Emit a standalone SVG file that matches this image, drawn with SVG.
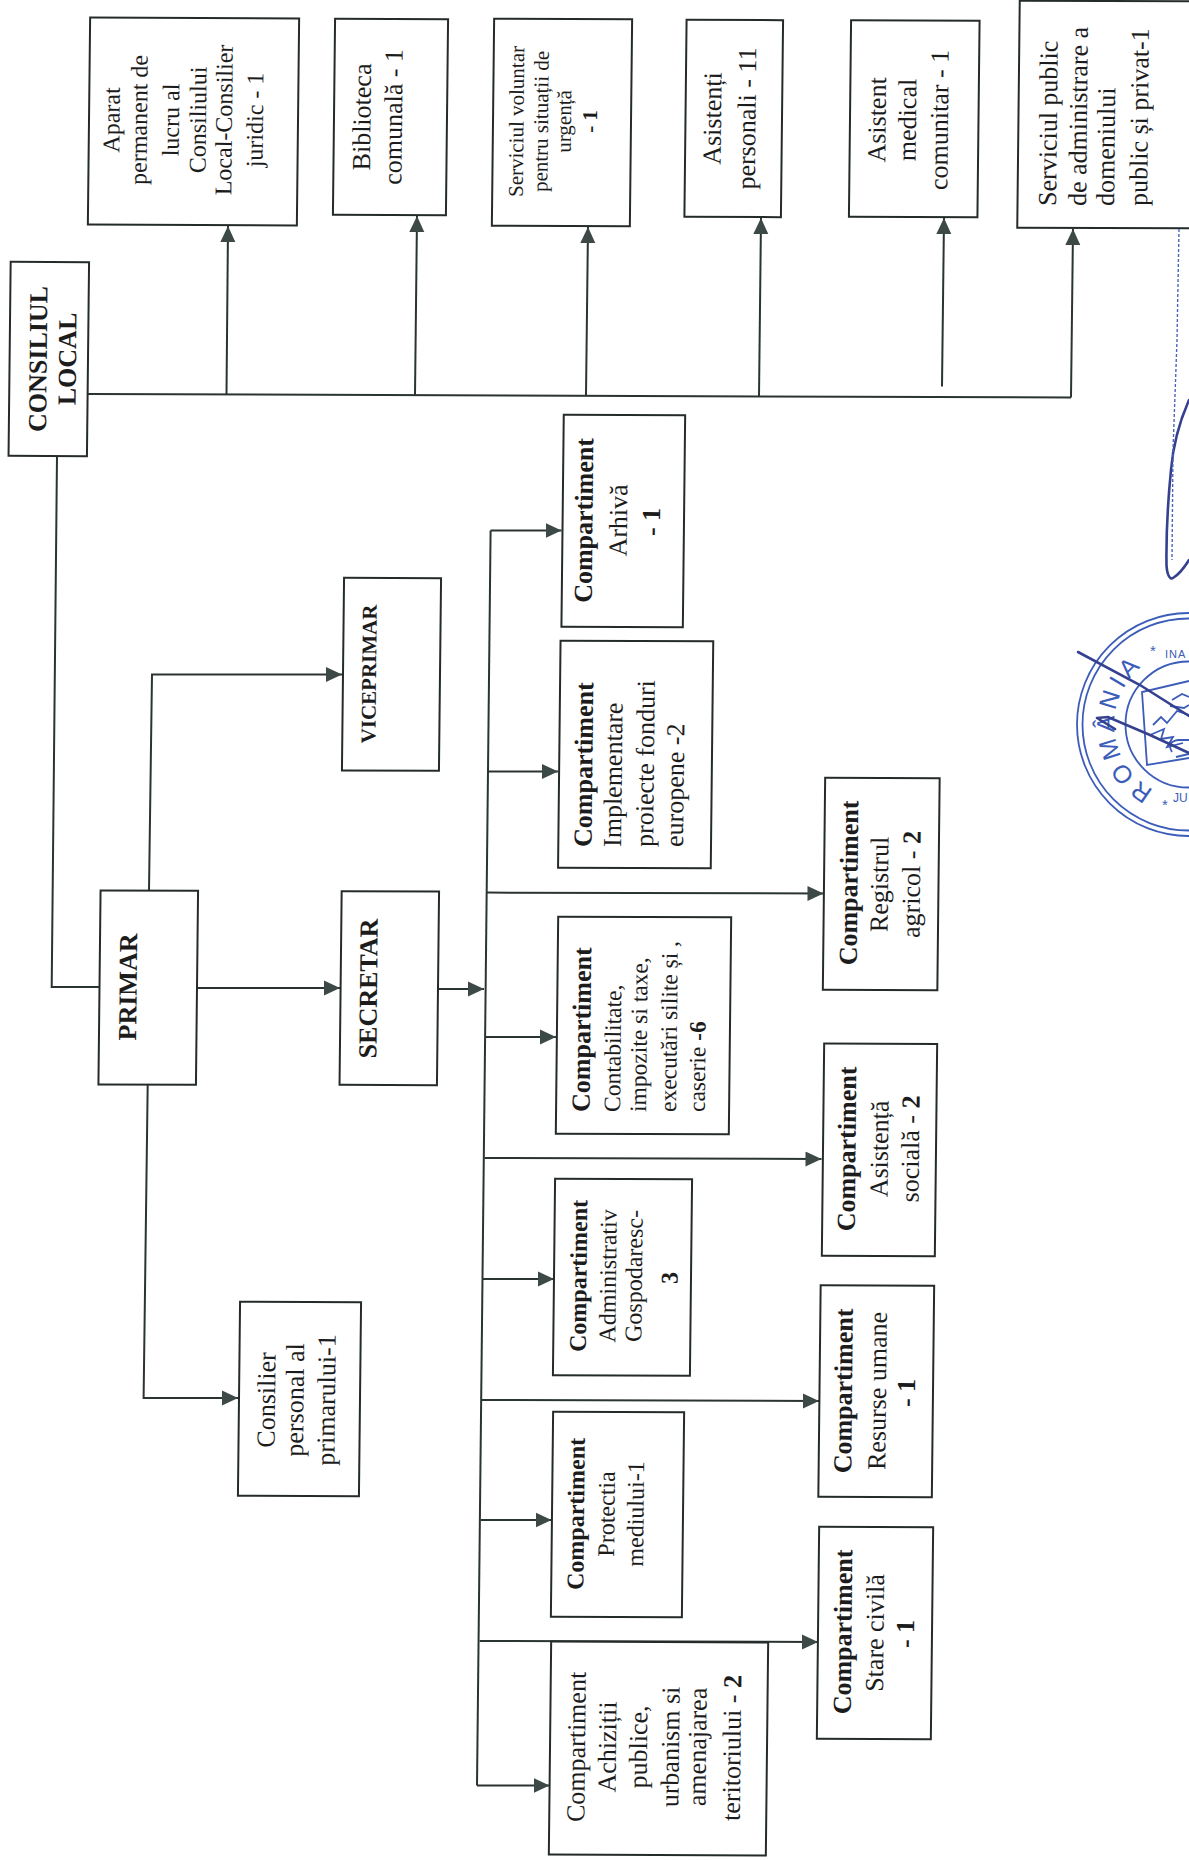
<svg xmlns="http://www.w3.org/2000/svg" width="1189" height="1860" viewBox="0 0 1189 1860">
<style>
.box{fill:#fff;stroke:#252b2b;stroke-width:2;transform-box:fill-box;transform-origin:center;transform:matrix(1,.0038,-.011,1,0,0)}
.t{font-family:"Liberation Serif","Times New Roman",serif;font-size:26px;fill:#1c1c1c;text-anchor:middle}
.l{text-anchor:start}
.b{font-weight:bold}
.f24{font-size:24px}
.f235{font-size:23.5px}
.f21{font-size:21px}
.c{fill:none;stroke:#2a3433;stroke-width:2}
.a{marker-end:url(#arr)}
.seal{fill:none;stroke:#3b5cb8;stroke-width:1.8}
.sealt{font-family:"Liberation Sans",Arial,sans-serif;fill:#3b5cb8}
.sig{fill:none;stroke:#35408f;stroke-width:2.6;stroke-linecap:round}
</style>
<defs>
<marker id="arr" markerUnits="userSpaceOnUse" markerWidth="17" markerHeight="16" refX="16" refY="8" orient="auto"><path d="M0,0.5 L16,8 L0,15.5 Z" fill="#3c4946"/></marker>
</defs>
<rect width="1189" height="1860" fill="#fff"/>

<g id="connectors">
<path class="c" d="M88,394 L1071,397.5"/>
<path class="c a" d="M226.5,394.5 L228,226"/>
<path class="c a" d="M415,395 L417,216"/>
<path class="c a" d="M586,395.5 L588,227"/>
<path class="c a" d="M759,396.5 L761,218"/>
<path class="c a" d="M942,386.5 L944,218"/>
<path class="c a" d="M1071,397.5 L1073,229"/>
<path class="c" d="M57,456 L51.7,987 L99.5,987"/>
<path class="c a" d="M149,891 L152,674.5 L342,674.5"/>
<path class="c a" d="M197,988 L340,988"/>
<path class="c a" d="M438,989 L484,989"/>
<path class="c a" d="M147.7,1084 L143.6,1398 L238,1398"/>
<path class="c" d="M490.6,530.4 L477,1785.5"/>
<path class="c a" d="M490.6,530.4 L561.5,530.4"/>
<path class="c a" d="M489,771.4 L558,771.4"/>
<path class="c a" d="M487,892.6 L823.5,893.5"/>
<path class="c a" d="M486,1037 L556,1037"/>
<path class="c a" d="M484.5,1158 L821.5,1159"/>
<path class="c a" d="M482.6,1279 L554,1279"/>
<path class="c a" d="M481.5,1400 L819,1401"/>
<path class="c a" d="M480.7,1520 L551.5,1520"/>
<path class="c a" d="M479.7,1641 L818,1642"/>
<path class="c a" d="M477,1785.5 L549.5,1785.5"/>
</g>

<g id="consiliul-local"><rect class="box" x="9.6" y="262" width="78.4" height="194"/>
<text class="t b" transform="translate(46.7,359) rotate(-89.4)">CONSILIUL</text>
<text class="t b" transform="translate(76,359) rotate(-89.4)">LOCAL</text></g>

<g id="aparat"><rect class="box" x="89" y="18" width="209" height="207"/>
<text class="t f24" transform="translate(119.5,120) rotate(-89.4)">Aparat</text>
<text class="t f24" transform="translate(147,120) rotate(-89.4)">permanent de</text>
<text class="t f24" transform="translate(179,120) rotate(-89.4)">lucru al</text>
<text class="t f24" transform="translate(206,120) rotate(-89.4)">Consiliului</text>
<text class="t f24" transform="translate(232,120) rotate(-89.4)">Local-Consilier</text>
<text class="t f24" transform="translate(263,120) rotate(-89.4)">juridic - 1</text></g>

<g id="biblioteca"><rect class="box" x="334" y="19" width="113" height="196"/>
<text class="t" transform="translate(370.5,117) rotate(-89.4)">Biblioteca</text>
<text class="t" transform="translate(402,117) rotate(-89.4)">comunală - 1</text></g>

<g id="serviciul-voluntar"><rect class="box" x="493" y="19" width="138" height="207"/>
<text class="t f21" transform="translate(523.5,121.5) rotate(-89.4)">Serviciul voluntar</text>
<text class="t f21" transform="translate(548,121.5) rotate(-89.4)">pentru situații de</text>
<text class="t f21" transform="translate(571,121.5) rotate(-89.4)">urgență</text>
<text class="t f21 b" transform="translate(597,121.5) rotate(-89.4)">- 1</text></g>

<g id="asistenti-personali"><rect class="box" x="685.5" y="20" width="96.5" height="197"/>
<text class="t" transform="translate(721,118.6) rotate(-89.4)">Asistenți</text>
<text class="t" transform="translate(755.5,118.6) rotate(-89.4)">personali - 11</text></g>

<g id="asistent-medical"><rect class="box" x="850" y="20.5" width="128.5" height="196.5"/>
<text class="t" transform="translate(885.6,120) rotate(-89.4)">Asistent</text>
<text class="t" transform="translate(916,120) rotate(-89.4)">medical</text>
<text class="t" transform="translate(948,120) rotate(-89.4)">comunitar - 1</text></g>

<g id="serviciul-public"><rect class="box" x="1018.5" y="1" width="180" height="227"/>
<text class="t l" transform="translate(1056,206) rotate(-89.4)">Serviciul public</text>
<text class="t l" transform="translate(1086,206) rotate(-89.4)">de administrare a</text>
<text class="t l" transform="translate(1114,206) rotate(-89.4)">domeniului</text>
<text class="t l" transform="translate(1147,206) rotate(-89.4)">public și privat-1</text></g>

<g id="primar"><rect class="box" x="99.5" y="890.6" width="97.5" height="194"/>
<text class="t b" transform="translate(136.6,987) rotate(-89.4)">PRIMAR</text></g>

<g id="secretar"><rect class="box" x="340.6" y="891.4" width="97.4" height="193.6"/>
<text class="t b" transform="translate(377,988.6) rotate(-89.4)">SECRETAR</text></g>

<g id="viceprimar"><rect class="box" x="343" y="578" width="97" height="192.6"/>
<text class="t f21 b" transform="translate(376,674) rotate(-89.4)">VICEPRIMAR</text></g>

<g id="consilier-personal"><rect class="box" x="239" y="1302" width="121" height="194"/>
<text class="t" transform="translate(275,1400) rotate(-89.4)">Consilier</text>
<text class="t" transform="translate(303.5,1400) rotate(-89.4)">personal al</text>
<text class="t" transform="translate(335,1400) rotate(-89.4)">primarului-1</text></g>

<g id="arhiva"><rect class="box" x="562.6" y="415" width="121.4" height="212"/>
<text class="t b" transform="translate(592.5,520.5) rotate(-89.4)">Compartiment</text>
<text class="t" transform="translate(627,520.5) rotate(-89.4)">Arhivă</text>
<text class="t b" transform="translate(660,522) rotate(-89.4)">- 1</text></g>

<g id="implementare"><rect class="box" x="559.3" y="641" width="152.7" height="227"/>
<text class="t b l" transform="translate(591.5,847) rotate(-89.4)">Compartiment</text>
<text class="t l" transform="translate(621,847) rotate(-89.4)">Implementare</text>
<text class="t l" transform="translate(653,847) rotate(-89.4)">proiecte fonduri</text>
<text class="t l" transform="translate(683,847) rotate(-89.4)">europene -2</text></g>

<g id="registrul-agricol"><rect class="box" x="824" y="778" width="114.5" height="212"/>
<text class="t b" transform="translate(857.5,883) rotate(-89.4)">Compartiment</text>
<text class="t" transform="translate(888,884.5) rotate(-89.4)">Registrul</text>
<text class="t" transform="translate(920,884.5) rotate(-89.4)">agricol - <tspan class="b">2</tspan></text></g>

<g id="contabilitate"><rect class="box" x="557" y="917" width="173" height="217"/>
<text class="t b l" transform="translate(589.5,1112) rotate(-89.4)">Compartiment</text>
<text class="t f235 l" transform="translate(620,1112) rotate(-89.4)">Contabilitate,</text>
<text class="t f235 l" transform="translate(646,1112) rotate(-89.4)">impozite si taxe,</text>
<text class="t f235 l" transform="translate(676,1112) rotate(-89.4)">executări silite și ,</text>
<text class="t f235 l" transform="translate(704.7,1112) rotate(-89.4)">caserie  <tspan class="b">-6</tspan></text></g>

<g id="asistenta-sociala"><rect class="box" x="823" y="1043.7" width="113" height="212.3"/>
<text class="t b" transform="translate(855.5,1149) rotate(-89.4)">Compartiment</text>
<text class="t" transform="translate(888,1149) rotate(-89.4)">Asistență</text>
<text class="t" transform="translate(919,1149) rotate(-89.4)">socială - <tspan class="b">2</tspan></text></g>

<g id="administrativ"><rect class="box" x="554" y="1179" width="137" height="196.6"/>
<text class="t f24 b" transform="translate(586.5,1276) rotate(-89.4)">Compartiment</text>
<text class="t f24" transform="translate(616,1276) rotate(-89.4)">Administrativ</text>
<text class="t f24" transform="translate(642,1276) rotate(-89.4)">Gospodaresc-</text>
<text class="t f24 b" transform="translate(677.5,1278) rotate(-89.4)">3</text></g>

<g id="resurse-umane"><rect class="box" x="819.5" y="1285.5" width="113.5" height="211.5"/>
<text class="t b" transform="translate(852,1391) rotate(-89.4)">Compartiment</text>
<text class="t" transform="translate(886,1391) rotate(-89.4)">Resurse umane</text>
<text class="t b" transform="translate(915,1393) rotate(-89.4)">- 1</text></g>

<g id="protectia-mediului"><rect class="box" x="552" y="1412" width="131" height="205"/>
<text class="t f24 b" transform="translate(584,1514) rotate(-89.4)">Compartiment</text>
<text class="t f24" transform="translate(614.5,1514) rotate(-89.4)">Protectia</text>
<text class="t f24" transform="translate(643.5,1514) rotate(-89.4)">mediului-1</text></g>

<g id="stare-civila"><rect class="box" x="818" y="1527" width="114" height="212"/>
<text class="t b" transform="translate(851.5,1632) rotate(-89.4)">Compartiment</text>
<text class="t" transform="translate(883.5,1633) rotate(-89.4)">Stare civilă</text>
<text class="t b" transform="translate(914,1634) rotate(-89.4)">- 1</text></g>

<g id="achizitii"><rect class="box" x="550" y="1642" width="217" height="213"/>
<text class="t" transform="translate(585,1747) rotate(-89.4)">Compartiment</text>
<text class="t" transform="translate(616,1747) rotate(-89.4)">Achiziții</text>
<text class="t" transform="translate(647,1747) rotate(-89.4)">publice,</text>
<text class="t" transform="translate(679,1747) rotate(-89.4)">urbanism si</text>
<text class="t" transform="translate(706,1747) rotate(-89.4)">amenajarea</text>
<text class="t" transform="translate(740.5,1748) rotate(-89.4)">teritoriului - <tspan class="b">2</tspan></text></g>

<g id="stamp">
<circle class="seal" cx="1188.5" cy="724.5" r="111.5"/>
<circle class="seal" cx="1188.5" cy="724.5" r="106"/>
<circle class="seal" cx="1188.5" cy="724.5" r="63"/>
<path id="sealArc" fill="none" d="M1153.8,789.8 A74,74 0 0 1 1150,661"/>
<text class="sealt" font-size="25"><textPath href="#sealArc" textLength="145">ROMÂNIA</textPath></text>
<text class="sealt" font-size="11" x="1165" y="658" letter-spacing="1">INA</text>
<text class="sealt" font-size="12" x="1173" y="802">JU</text>
<text class="sealt" font-size="15" x="1150" y="656">*</text>
<text class="sealt" font-size="15" x="1162" y="810">*</text>
<path class="seal" d="M1189,681 L1142,692 L1147,765 L1189,758"/>
<path class="seal" stroke-width="2.4" d="M1153,725 l8,-8 l6,6 l10,-12 l12,4 M1150,735 l14,-6 l-3,10 l12,-2 l-6,10 l16,-4 M1172,700 l10,-6 l7,3 M1170,706 l14,2 l5,-3 M1172,752 q-6,-10 6,-12 l11,0 M1176,757 l13,-3"/>
</g>

<g id="signature">
<path class="sig" d="M1078,652 L1140,685 L1189,716"/>
<path class="sig" d="M1097,718 L1108,717 L1150,735 L1189,753 M1097,718 L1115,729"/>
<path class="sig" d="M1189,400 C1178,425 1173,445 1171,470 C1168,500 1166,530 1166.5,565 C1167,575 1170,580 1173,578 C1178,575 1184,568 1189,560"/>
<path d="M1179,229 L1177,340 L1173,450 L1172,560" fill="none" stroke="#4a66bb" stroke-width="1.4" stroke-dasharray="3 2"/>
</g>
</svg>
